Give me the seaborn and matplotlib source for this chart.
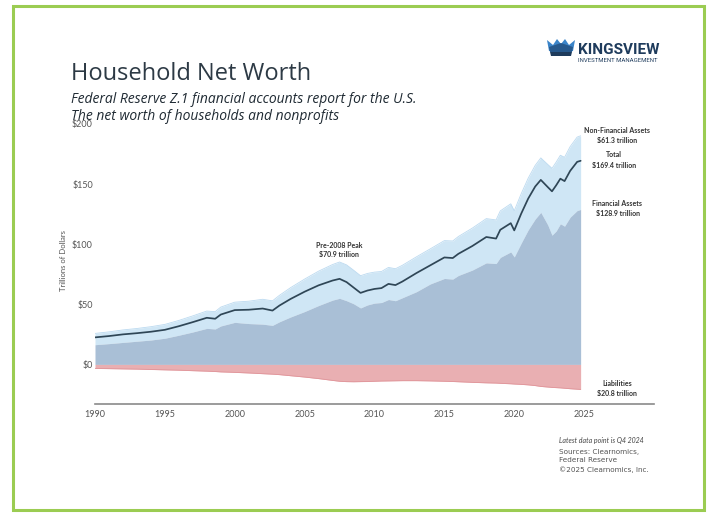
import numpy as np
import pandas as pd
import matplotlib
matplotlib.use("Agg")
import matplotlib.pyplot as plt
import seaborn as sns
from matplotlib.patches import Rectangle, Polygon

# ---------------- data (trillions of dollars) ----------------
years = [1990.0, 1991, 1992, 1993, 1994, 1995, 1996, 1997, 1998, 1998.6, 1999,
         2000, 2001, 2002, 2002.7, 2003.2, 2004, 2005, 2006, 2007, 2007.5,
         2008, 2008.5, 2009.0, 2009.5, 2010, 2010.5, 2011, 2011.5, 2012, 2013,
         2014, 2015, 2015.6, 2016, 2017, 2018, 2018.7, 2019, 2019.75, 2020.0,
         2020.5, 2021, 2021.5, 2021.9, 2022.4, 2022.7, 2023, 2023.3, 2023.6,
         2024, 2024.5, 2024.75]

total = [22.5, 23.6, 25.0, 26.0, 27.2, 28.8, 31.8, 35.2, 38.8, 38.0, 41.5,
         45.2, 45.5, 46.5, 44.8, 49.0, 54.5, 60.5, 65.8, 69.8, 71.2,
         68.5, 64.0, 59.5, 61.5, 62.8, 63.5, 67.0, 66.0, 69.0, 76.0,
         82.5, 89.0, 88.5, 92.0, 98.5, 106.0, 104.7, 112.0, 117.5, 111.5,
         125.5, 138.0, 148.0, 153.5, 147.5, 144.0, 149.0, 154.5, 152.5,
         161.0, 168.5, 169.4]

financial = [16.4, 17.3, 18.3, 19.3, 20.3, 21.8, 24.3, 27.0, 30.0, 29.5, 32.0,
             35.0, 34.0, 33.5, 32.5, 35.5, 39.5, 44.0, 49.0, 53.5, 55.0,
             53.0, 50.5, 47.0, 49.5, 51.0, 51.5, 54.0, 53.0, 55.5, 60.5,
             67.0, 71.5, 71.0, 74.0, 78.5, 84.5, 83.9, 89.0, 93.6, 89.4,
             101.0, 112.0, 121.0, 126.5, 116.0, 107.5, 111.0, 117.0, 115.0,
             122.5, 128.0, 128.9]

total_assets = [25.8, 27.1, 28.7, 29.9, 31.4, 33.3, 36.6, 40.4, 44.4, 43.9, 47.7,
                51.8, 52.6, 54.2, 52.9, 57.5, 63.9, 71.0, 77.6, 83.1, 85.2,
                82.8, 78.4, 73.8, 75.7, 76.8, 77.3, 80.7, 79.6, 82.5, 89.5,
                96.2, 103.0, 102.7, 106.4, 113.4, 121.3, 120.2, 127.7, 133.6, 127.8,
                142.1, 155.0, 165.6, 171.8, 166.3, 163.1, 168.3, 174.0, 172.3,
                181.2, 189.1, 190.2]

liabilities = [3.3, 3.5, 3.7, 3.9, 4.2, 4.5, 4.8, 5.2, 5.6, 5.9, 6.2,
               6.6, 7.1, 7.7, 8.1, 8.5, 9.4, 10.5, 11.8, 13.3, 14.0,
               14.3, 14.4, 14.3, 14.2, 14.0, 13.8, 13.7, 13.6, 13.5, 13.5,
               13.7, 14.0, 14.2, 14.4, 14.9, 15.3, 15.5, 15.7, 16.1, 16.3,
               16.6, 17.0, 17.6, 18.3, 18.8, 19.1, 19.3, 19.5, 19.8,
               20.2, 20.6, 20.8]

x_ticks = [1990, 1995, 2000, 2005, 2010, 2015, 2020, 2025]
y_ticks = [0, 50, 100, 150, 200]
y_tick_labels = ["$0", "$50", "$100", "$150", "$200"]

# ---------------- styling ----------------
sns.set_theme(style="white")
plt.rcParams['font.family'] = ['Lato', 'DejaVu Sans']

W, H = 712, 515
fig = plt.figure(figsize=(W / 100, H / 100), dpi=100)
fig.patch.set_facecolor("white")


def fx(x):
    return x / W


def fy(y):
    return 1 - y / H


def ftext(x, y, s, **kw):
    fig.text(fx(x), fy(y), s, **kw)


ax = fig.add_axes([fx(95), fy(403.5), 559 / W, (403.5 - 124) / H])

df = pd.DataFrame({"year": years, "total": total, "financial": financial,
                   "assets": total_assets, "liabilities": liabilities})
df["neg_liab"] = -df["liabilities"]

ax.fill_between(df["year"], df["financial"], df["assets"], color="#cfe6f5", lw=0)
ax.plot(df["year"], df["assets"], color="#bcdaf0", lw=0.6)
ax.fill_between(df["year"], 0, df["financial"], color="#a9bfd6", lw=0)
ax.fill_between(df["year"], df["neg_liab"], 0, color="#e9afb2", lw=0)
ax.plot(df["year"], df["neg_liab"], color="#e0959a", lw=0.6)
sns.lineplot(data=df, x="year", y="total", ax=ax, color="#2f4656", lw=1.25)

ax.set_xlim(1990, 2030)
ax.set_ylim(-32.5, 200)
ax.set_xticks(x_ticks)
ax.set_xticklabels([str(t) for t in x_ticks])
ax.set_yticks(y_ticks)
ax.set_yticklabels(y_tick_labels)
ax.tick_params(axis="x", length=0, pad=5, labelsize=6.5, colors="#555555")
ax.tick_params(axis="y", length=0, pad=1.5, labelsize=6.5, colors="#555555")
ax.set_xlabel("")
ax.set_ylabel("")
for s in ["left", "top", "right"]:
    ax.spines[s].set_visible(False)
ax.spines["bottom"].set_color("#8a8a8a")
ax.spines["bottom"].set_linewidth(1.2)
ax.set_facecolor("none")

# ---------------- texts ----------------
ftext(63.5, 261, "Trillions of Dollars", fontsize=5.5, color="#555555",
      rotation=90, ha="center", va="center")

ftext(71, 80, "Household Net Worth", fontsize=17, color="#2d3a45",
      family=["Open Sans", "DejaVu Sans"], ha="left", va="baseline")
ftext(71, 103.3, "Federal Reserve Z.1 financial accounts report for the U.S.",
      fontsize=10, style="italic", color="#1f2a33",
      family=["Open Sans", "DejaVu Sans"], ha="left", va="baseline")
ftext(71, 119.5, "The net worth of households and nonprofits",
      fontsize=10, style="italic", color="#1f2a33",
      family=["Open Sans", "DejaVu Sans"], ha="left", va="baseline")

ann = dict(fontsize=5, fontweight="bold", color="#333333", ha="center", va="center")
ftext(617.5, 130.7, "Non-Financial Assets", **ann)
ftext(617.5, 140.5, "$61.3 trillion", **ann)
ftext(614, 154.3, "Total", **ann)
ftext(614, 165, "$169.4 trillion", **ann)
ftext(617.5, 203.3, "Financial Assets", **ann)
ftext(617.5, 213.3, "$128.9 trillion", **ann)
ftext(617, 384, "Liabilities", **ann)
ftext(617, 394, "$20.8 trillion", **ann)
ftext(339, 245, "Pre-2008 Peak", **ann)
ftext(339, 254.3, "$70.9 trillion", **ann)

ftext(559, 440, "Latest data point is Q4 2024", fontsize=5, style="italic",
      color="#444444", ha="left", va="center")
src = dict(fontsize=5.2, color="#555555", ha="left", va="center",
           family=["DejaVu Sans"])
ftext(559, 451.7, "Sources: Clearnomics,", **src)
ftext(559, 460.5, "Federal Reserve", **src)
ftext(559, 469.3, "\u00a92025 Clearnomics, Inc.", **src)

# ---------------- logo ----------------
ftext(578, 50, "KINGSVIEW", fontsize=11, fontweight="bold", color="#1e3b5c",
      family=["Roboto", "DejaVu Sans"], ha="left", va="center")
ftext(578.5, 60.7, "INVESTMENT MANAGEMENT", fontsize=4.3, color="#1e3b5c",
      family=["Roboto", "DejaVu Sans"], ha="left", va="center")
crown_top = [(547, 40), (553, 45), (557, 39), (561, 44), (565, 39),
             (569, 45), (575, 40), (573, 51), (549, 51)]
fig.add_artist(Polygon([(fx(a), fy(b)) for a, b in crown_top], closed=True,
                       transform=fig.transFigure, facecolor="#3a84c9", lw=0))
crown_mid = [(549, 47), (561, 43), (573, 47), (572, 52), (550, 52)]
fig.add_artist(Polygon([(fx(a), fy(b)) for a, b in crown_mid], closed=True,
                       transform=fig.transFigure, facecolor="#26588c", lw=0))
crown_base = [(550, 52), (572, 52), (571, 56), (551, 56)]
fig.add_artist(Polygon([(fx(a), fy(b)) for a, b in crown_base], closed=True,
                       transform=fig.transFigure, facecolor="#1e3b5c", lw=0))

# ---------------- green frame ----------------
fig.add_artist(Rectangle((fx(13), fy(510)), (704 - 13) / W, (510 - 6) / H,
                         transform=fig.transFigure, fill=False,
                         edgecolor="#9bcc52", lw=2.2))

fig.savefig("out.png", dpi=100, facecolor="white")
